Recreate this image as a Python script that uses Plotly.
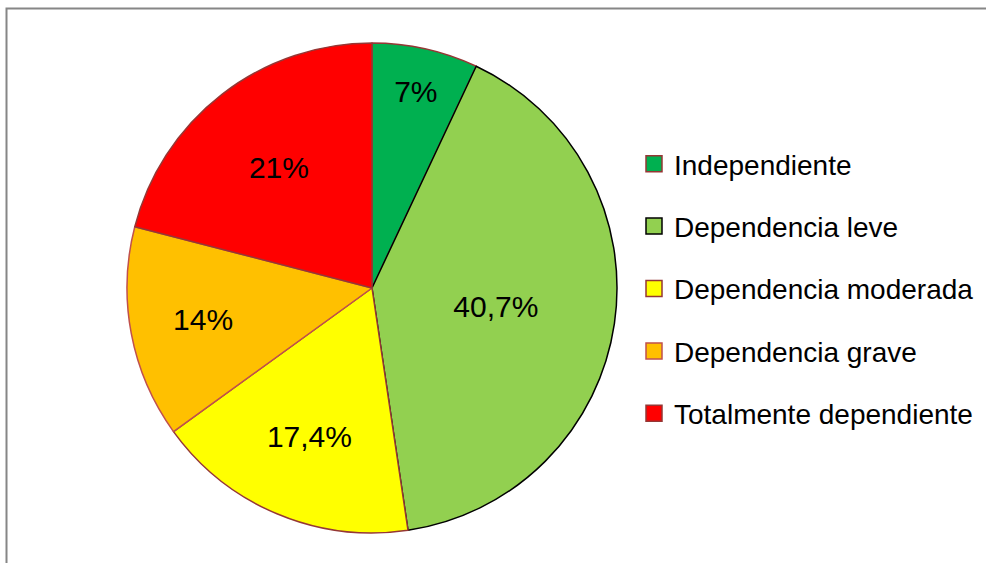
import plotly.graph_objects as go

categories = ["Independiente", "Dependencia leve", "Dependencia moderada",
              "Dependencia grave", "Totalmente dependiente"]
values = [7, 40.7, 17.4, 14, 21]
colors = ["#00B050", "#92D050", "#FFFF00", "#FFC000", "#FF0000"]
outline_colors = ["#953735", "#000000", "#953735", "#C0504D", "#953735"]

labels_text = [(f"{v:g}".replace(".", ",") + "%") for v in values]

W, H = 986, 563
cx, cy, R = 372, 288, 245

fig = go.Figure()
fig.add_trace(go.Pie(
    labels=categories,
    values=values,
    text=labels_text,
    textinfo="text",
    textposition="inside",
    insidetextorientation="horizontal",
    textfont=dict(family="Liberation Sans, Arial, sans-serif", size=30, color="#000000"),
    marker=dict(colors=colors, line=dict(color=outline_colors, width=1.5)),
    sort=False,
    direction="clockwise",
    rotation=0,
    showlegend=False,
    domain=dict(x=[(cx - R) / W, (cx + R) / W], y=[(H - cy - R) / H, (H - cy + R) / H]),
    hoverinfo="label+percent",
))

for cat, col, oc in zip(categories, colors, outline_colors):
    fig.add_trace(go.Scatter(
        x=[None], y=[None], mode="markers", name=cat, legendgroup=cat,
        marker=dict(symbol="square", size=16, color=col, line=dict(color=oc, width=1.5)),
        showlegend=True,
    ))

fig.update_layout(
    width=W, height=H,
    margin=dict(l=0, r=0, t=0, b=0),
    paper_bgcolor="white", plot_bgcolor="white",
    xaxis=dict(visible=False), yaxis=dict(visible=False),
    font=dict(family="Liberation Sans, Arial, sans-serif", color="#000000"),
    legend=dict(
        x=634 / W, xanchor="left", y=1 - 139 / H, yanchor="top",
        font=dict(size=28, color="#000000"),
        tracegroupgap=23, bgcolor="rgba(0,0,0,0)",
        traceorder="grouped",
    ),
    shapes=[dict(type="rect", xref="paper", yref="paper",
                 x0=6.5 / W, x1=1.05, y0=-0.05, y1=1 - 8.5 / H,
                 line=dict(color="#868686", width=2), fillcolor="rgba(0,0,0,0)",
                 layer="below")],
)

fig.write_html("out.html", config={"displayModeBar": False},
               post_script="document.body.style.margin='0';document.body.style.overflow='hidden';")
